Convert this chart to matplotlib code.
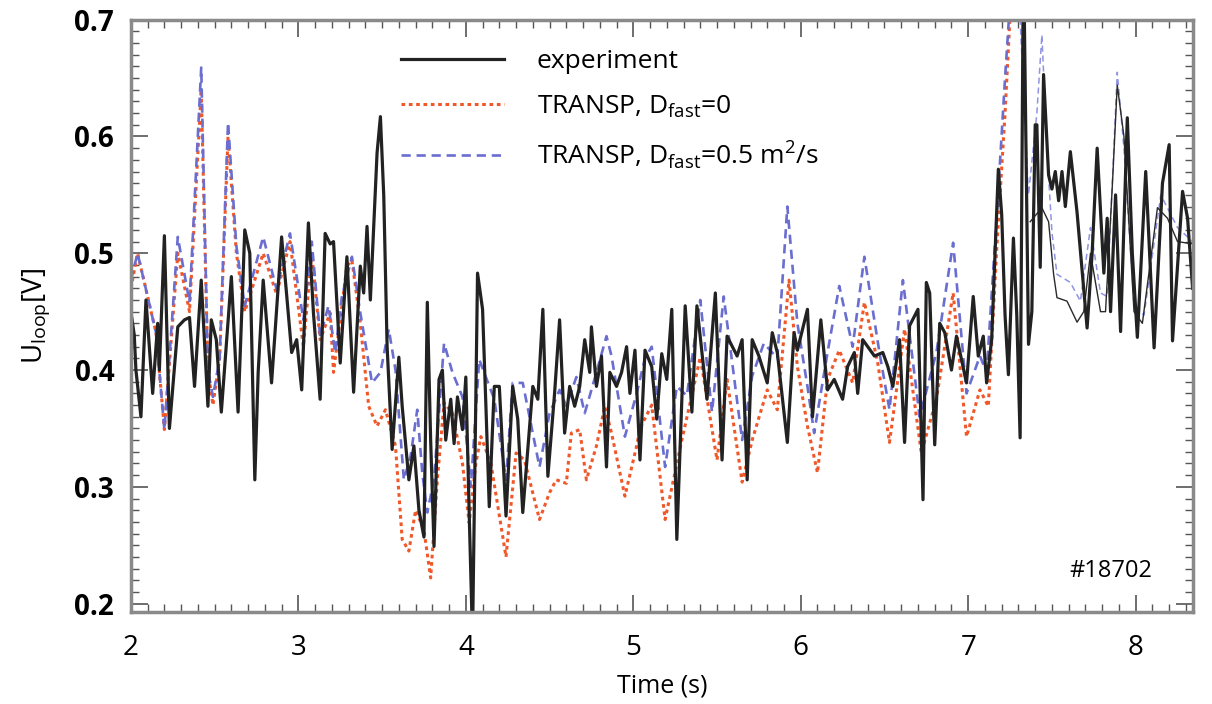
import numpy as np
import matplotlib
matplotlib.use("Agg")
import matplotlib.pyplot as plt
from matplotlib.ticker import MultipleLocator, FormatStrFormatter

# experiment (thick black), time in s, loop voltage in V
t_exp = [2.00, 2.02, 2.03, 2.06, 2.09, 2.13, 2.16, 2.17, 2.20, 2.23, 2.28, 2.32, 2.35, 2.38,
         2.42, 2.46, 2.48, 2.51, 2.54, 2.60, 2.64, 2.68, 2.71, 2.74, 2.76, 2.79, 2.84, 2.90,
         2.96, 2.99, 3.02, 3.06, 3.09, 3.13, 3.16, 3.19, 3.21, 3.25, 3.29, 3.33, 3.37, 3.39,
         3.41, 3.43, 3.47, 3.49, 3.51, 3.53, 3.56, 3.60, 3.62, 3.66, 3.69, 3.72, 3.75, 3.77,
         3.79, 3.81, 3.84, 3.86, 3.88, 3.91, 3.93, 3.95, 3.98, 4.00, 4.02, 4.04, 4.07, 4.10,
         4.12, 4.14, 4.17, 4.20, 4.24, 4.28, 4.31, 4.34, 4.40, 4.43, 4.46, 4.49, 4.53, 4.56,
         4.59, 4.62, 4.65, 4.68, 4.71, 4.74, 4.75, 4.78, 4.81, 4.84, 4.86, 4.90, 4.93, 4.96,
         4.98, 5.01, 5.04, 5.07, 5.11, 5.14, 5.17, 5.20, 5.23, 5.26, 5.31, 5.35, 5.38, 5.44,
         5.49, 5.53, 5.56, 5.62, 5.65, 5.68, 5.71, 5.75, 5.80, 5.83, 5.86, 5.92, 5.96, 5.98,
         6.04, 6.07, 6.12, 6.16, 6.20, 6.25, 6.28, 6.32, 6.34, 6.37, 6.40, 6.44, 6.49, 6.52,
         6.55, 6.59, 6.62, 6.65, 6.70, 6.73, 6.75, 6.77, 6.80, 6.83, 6.86, 6.90, 6.93, 6.99,
         7.03, 7.06, 7.09, 7.11, 7.14, 7.18, 7.20, 7.22, 7.24, 7.27, 7.29, 7.31, 7.33, 7.36,
         7.38, 7.40, 7.41, 7.43, 7.45, 7.48, 7.50, 7.52, 7.54, 7.56, 7.58, 7.61, 7.65, 7.71,
         7.74, 7.77, 7.81, 7.83, 7.85, 7.88, 7.91, 7.95, 7.98, 8.01, 8.06, 8.11, 8.16, 8.20,
         8.22, 8.28, 8.31, 8.34]
u_exp = [0.45, 0.43, 0.40, 0.36, 0.46, 0.38, 0.44, 0.40, 0.515, 0.35, 0.437, 0.443, 0.445, 0.386,
         0.477, 0.369, 0.443, 0.426, 0.364, 0.48, 0.364, 0.52, 0.50, 0.306, 0.398, 0.477, 0.389, 0.514,
         0.415, 0.426, 0.383, 0.526, 0.449, 0.375, 0.517, 0.508, 0.51, 0.406, 0.497, 0.381, 0.489, 0.466,
         0.523, 0.46, 0.586, 0.617, 0.549, 0.42, 0.332, 0.411, 0.369, 0.306, 0.335, 0.28, 0.257, 0.458,
         0.34, 0.249, 0.392, 0.40, 0.34, 0.375, 0.337, 0.377, 0.349, 0.394, 0.278, 0.17, 0.483, 0.452,
         0.369, 0.283, 0.386, 0.386, 0.275, 0.386, 0.358, 0.278, 0.386, 0.375, 0.452, 0.309, 0.38, 0.443,
         0.346, 0.386, 0.369, 0.386, 0.426, 0.398, 0.437, 0.386, 0.412, 0.317, 0.398, 0.386, 0.398, 0.42,
         0.38, 0.417, 0.323, 0.417, 0.403, 0.358, 0.414, 0.392, 0.452, 0.255, 0.455, 0.364, 0.455, 0.375,
         0.466, 0.323, 0.429, 0.412, 0.426, 0.306, 0.426, 0.412, 0.389, 0.432, 0.415, 0.338, 0.432, 0.417,
         0.452, 0.36, 0.443, 0.383, 0.392, 0.375, 0.403, 0.415, 0.38, 0.426, 0.42, 0.412, 0.415, 0.403,
         0.386, 0.426, 0.338, 0.438, 0.452, 0.289, 0.475, 0.466, 0.336, 0.44, 0.432, 0.40, 0.429, 0.389,
         0.463, 0.412, 0.429, 0.389, 0.426, 0.572, 0.533, 0.447, 0.396, 0.513, 0.447, 0.342, 0.76, 0.422,
         0.45, 0.61, 0.61, 0.488, 0.653, 0.567, 0.555, 0.57, 0.545, 0.57, 0.54, 0.587, 0.535, 0.436,
         0.50, 0.59, 0.483, 0.53, 0.45, 0.55, 0.433, 0.616, 0.50, 0.428, 0.57, 0.419, 0.56, 0.593,
         0.425, 0.553, 0.53, 0.47]

# second, thin black trace at the end of the shot
t_exp2 = [7.37, 7.44, 7.48, 7.51, 7.53, 7.59, 7.65, 7.69, 7.73, 7.79, 7.82, 7.86, 7.89, 7.93,
          7.99, 8.04, 8.13, 8.19, 8.25, 8.34]
u_exp2 = [0.527, 0.539, 0.527, 0.482, 0.462, 0.459, 0.441, 0.45, 0.50, 0.45, 0.45, 0.556, 0.644, 0.60,
          0.45, 0.44, 0.539, 0.53, 0.51, 0.508]

# TRANSP, D_fast = 0 (red dotted)
t_d0 = [2.00, 2.04, 2.09, 2.15, 2.20, 2.28, 2.35, 2.42, 2.46, 2.49, 2.53, 2.58, 2.63, 2.68,
        2.79, 2.87, 2.95, 3.03, 3.08, 3.13, 3.19, 3.21, 3.29, 3.32, 3.37, 3.42, 3.47, 3.52,
        3.58, 3.62, 3.66, 3.70, 3.75, 3.79, 3.83, 3.87, 3.92, 3.98, 4.02, 4.06, 4.09, 4.15,
        4.24, 4.30, 4.35, 4.44, 4.50, 4.54, 4.60, 4.63, 4.68, 4.72, 4.78, 4.83, 4.87, 4.95,
        5.02, 5.04, 5.11, 5.19, 5.29, 5.40, 5.50, 5.56, 5.65, 5.71, 5.80, 5.86, 5.93, 5.98,
        6.04, 6.10, 6.16, 6.23, 6.31, 6.38, 6.46, 6.53, 6.62, 6.72, 6.81, 6.91, 6.99, 7.07,
        7.12, 7.17, 7.22, 7.27]
u_d0 = [0.47, 0.50, 0.469, 0.432, 0.349, 0.50, 0.45, 0.64, 0.40, 0.37, 0.41, 0.60, 0.50, 0.45,
        0.50, 0.465, 0.51, 0.42, 0.50, 0.426, 0.449, 0.398, 0.489, 0.494, 0.44, 0.369, 0.352, 0.366,
        0.335, 0.255, 0.245, 0.28, 0.263, 0.222, 0.306, 0.372, 0.363, 0.32, 0.269, 0.32, 0.343, 0.32,
        0.24, 0.329, 0.323, 0.272, 0.295, 0.306, 0.303, 0.346, 0.349, 0.306, 0.335, 0.369, 0.346, 0.292,
        0.335, 0.35, 0.37, 0.272, 0.34, 0.411, 0.323, 0.392, 0.304, 0.34, 0.383, 0.366, 0.477, 0.403,
        0.352, 0.312, 0.392, 0.417, 0.389, 0.458, 0.406, 0.338, 0.435, 0.329, 0.375, 0.466, 0.343, 0.383,
        0.369, 0.503, 0.62, 0.76]

# TRANSP, D_fast = 0.5 m^2/s (blue dashed)
t_d05 = [2.00, 2.04, 2.09, 2.15, 2.20, 2.28, 2.35, 2.42, 2.46, 2.49, 2.53, 2.58, 2.63, 2.68,
         2.79, 2.87, 2.95, 3.03, 3.08, 3.13, 3.18, 3.22, 3.26, 3.32, 3.37, 3.44, 3.49, 3.54,
         3.58, 3.63, 3.67, 3.71, 3.74, 3.77, 3.81, 3.87, 3.92, 3.98, 4.03, 4.08, 4.17, 4.24,
         4.28, 4.34, 4.44, 4.50, 4.56, 4.60, 4.66, 4.71, 4.78, 4.84, 4.87, 4.95, 5.02, 5.07,
         5.11, 5.19, 5.26, 5.32, 5.40, 5.47, 5.54, 5.65, 5.71, 5.78, 5.86, 5.92, 5.98, 6.04,
         6.08, 6.16, 6.23, 6.31, 6.38, 6.47, 6.53, 6.61, 6.71, 6.81, 6.91, 6.99, 7.07, 7.11,
         7.17, 7.22, 7.27]
u_d05 = [0.477, 0.50, 0.469, 0.432, 0.349, 0.514, 0.458, 0.659, 0.40, 0.377, 0.41, 0.612, 0.506, 0.455,
         0.514, 0.469, 0.517, 0.443, 0.51, 0.429, 0.455, 0.415, 0.463, 0.497, 0.449, 0.389, 0.398, 0.435,
         0.40, 0.306, 0.326, 0.366, 0.312, 0.278, 0.306, 0.423, 0.398, 0.377, 0.30, 0.409, 0.375, 0.306,
         0.389, 0.389, 0.317, 0.363, 0.383, 0.369, 0.394, 0.363, 0.398, 0.429, 0.412, 0.343, 0.38, 0.41,
         0.42, 0.317, 0.386, 0.378, 0.46, 0.364, 0.463, 0.34, 0.395, 0.423, 0.41, 0.54, 0.44, 0.386,
         0.346, 0.415, 0.472, 0.42, 0.497, 0.415, 0.366, 0.477, 0.36, 0.415, 0.509, 0.38, 0.412, 0.398,
         0.531, 0.65, 0.76]

# thin blue dashed continuation after the spike
t_d05b = [7.27, 7.31, 7.36, 7.41, 7.44, 7.47, 7.50, 7.53, 7.61, 7.67, 7.73, 7.79, 7.83, 7.89,
          7.93, 7.99, 8.05, 8.15, 8.25, 8.34]
u_d05b = [0.76, 0.70, 0.55, 0.62, 0.687, 0.59, 0.518, 0.482, 0.475, 0.459, 0.522, 0.466, 0.463, 0.655,
          0.59, 0.456, 0.447, 0.55, 0.522, 0.51]

plt.rcParams['font.family'] = ['Open Sans', 'DejaVu Sans']

fig = plt.figure(figsize=(12.12, 7.04), dpi=100)
ax = fig.add_axes([0.108, 0.131, 0.876, 0.841])

red = '#f0582a'
blue = '#6a6ed0'

ax.plot(t_d0, u_d0, color=red, linestyle=(0, (1.2, 1.2)), linewidth=2.2,
        label=r'TRANSP, D$_{\mathregular{fast}}$=0')
ax.plot(t_d05, u_d05, color=blue, linestyle=(0, (3.5, 2.2)), linewidth=1.9,
        label=r'TRANSP, D$_{\mathregular{fast}}$=0.5 m$^{\mathregular{2}}$/s')
ax.plot(t_d05b, u_d05b, color='#9094e2', linestyle=(0, (4, 2.5)), linewidth=1.1)
ax.plot(t_exp2, u_exp2, color='#2a2a2a', linewidth=1.0)
ax.plot(t_exp, u_exp, color='#222222', linewidth=2.3, label='experiment')

ax.set_xlim(2.0, 8.34)
ax.set_ylim(0.193, 0.70)

ax.xaxis.set_major_locator(MultipleLocator(1))
ax.xaxis.set_minor_locator(MultipleLocator(0.1))
ax.yaxis.set_major_locator(MultipleLocator(0.1))
ax.yaxis.set_minor_locator(MultipleLocator(0.01))
ax.yaxis.set_major_formatter(FormatStrFormatter('%.1f'))
ax.tick_params(which='both', direction='in', top=True, right=True, color='#555555')
ax.tick_params(which='major', length=12, width=1.2, labelsize=20)
ax.tick_params(axis='x', which='major', pad=16)
ax.tick_params(axis='y', which='major', pad=12)
ax.tick_params(which='minor', length=6, width=1.0)
for lab in ax.get_yticklabels():
    lab.set_fontweight('bold')
for sp in ax.spines.values():
    sp.set_color('#8a8a8a')
    sp.set_linewidth(2.5)

ax.set_xlabel('Time (s)', fontsize=18, labelpad=8)
ax.set_ylabel(r'U$_{\mathregular{loop}}$[V]', fontsize=20, labelpad=16)

ax.text(7.85, 0.228, '#18702', fontsize=17, ha='center', va='center')

h, l = ax.get_legend_handles_labels()
order = [2, 0, 1]
ax.legend([h[i] for i in order], [l[i] for i in order], loc='upper left',
          bbox_to_anchor=(0.232, 0.99), frameon=False, fontsize=19,
          handlelength=3.9, handletextpad=1.25, labelspacing=0.72)

fig.savefig('out.png', dpi=100)
